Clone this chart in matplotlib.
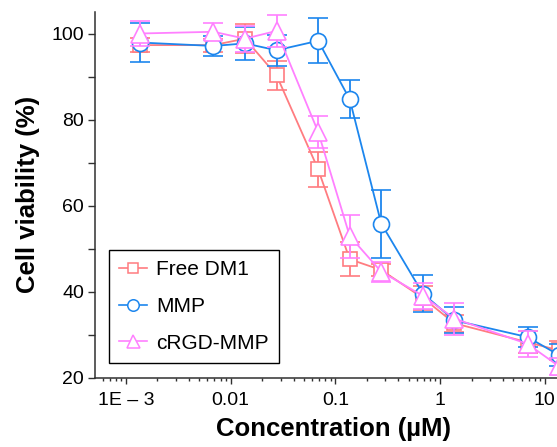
import matplotlib.pyplot as plt
from matplotlib.lines import Line2D

plt.rcParams['font.family'] = ['Liberation Sans', 'DejaVu Sans']

# concentrations (uM)
conc = [0.00137, 0.00685, 0.0137, 0.0274, 0.0685, 0.137, 0.274, 0.685, 1.37, 6.85, 13.7]

free_dm1 = [97.3, 97.3, 98.8, 90.3, 68.4, 47.5, 45.0, 38.5, 32.6, 28.2, 26.3]
free_dm1_err = [1.6, 1.5, 3.3, 3.4, 4.1, 4.0, 1.5, 2.8, 2.0, 2.5, 2.2]

mmp = [97.9, 97.1, 97.7, 96.1, 98.3, 84.7, 55.8, 39.5, 33.3, 29.4, 25.2]
mmp_err = [4.6, 2.4, 3.8, 3.6, 5.2, 4.4, 7.9, 4.3, 3.0, 2.3, 2.5]

crgd_mmp = [100.0, 100.4, 98.8, 100.6, 77.1, 52.9, 44.6, 39.0, 33.7, 27.8, 22.6]
crgd_mmp_err = [3.0, 2.0, 3.0, 3.7, 3.7, 5.0, 2.3, 3.0, 3.7, 3.0, 2.0]

xtick_vals = [0.001, 0.01, 0.1, 1, 10]
xtick_labels = ['1E \u2013 3', '0.01', '0.1', '1', '10']

fig = plt.figure(figsize=(5.57, 4.47), dpi=100)
ax = fig.add_axes([95 / 557, 69.5 / 447, 478 / 557, 365.5 / 447])

series = [
    (free_dm1, free_dm1_err, '#FF7C80', 's', 10, 'Free DM1'),
    (mmp, mmp_err, '#1C86EE', 'o', 11.5, 'MMP'),
    (crgd_mmp, crgd_mmp_err, '#FF80FF', '^', 13, 'cRGD-MMP'),
]
handles = []
for i, (vals, errs, col, mk, ms, lab) in enumerate(series):
    ax.errorbar(conc, vals, yerr=errs, color=col, marker=mk, markersize=ms,
                markerfacecolor='white', markeredgecolor=col, markeredgewidth=1.2,
                linewidth=1.3, elinewidth=1.3, capsize=7, capthick=1.3,
                zorder=3 + i, clip_on=False)
    handles.append(Line2D([], [], color=col, marker=mk, markersize=ms * 0.72,
                          markerfacecolor='white', markeredgecolor=col,
                          markeredgewidth=1.1, linewidth=1.2, label=lab))

ax.set_xscale('log')
ax.set_xlim(5.06e-4, 18.6)
ax.set_ylim(20, 105)
ax.set_xticks(xtick_vals)
ax.set_xticklabels(xtick_labels)
ax.set_yticks([20, 40, 60, 80, 100])
ax.set_yticks([30, 50, 70, 90], minor=True)

for s in ['top', 'right']:
    ax.spines[s].set_visible(False)
for s in ['left', 'bottom']:
    ax.spines[s].set_linewidth(1.1)
    ax.spines[s].set_color('#303030')

ax.tick_params(axis='both', which='major', labelsize=14, direction='out', width=1, color='#303030')
ax.tick_params(axis='x', which='major', length=4.5, pad=6)
ax.tick_params(axis='x', which='minor', length=2.5, width=1, color='#303030')
ax.tick_params(axis='y', which='major', length=5, pad=3)
ax.tick_params(axis='y', which='minor', length=5, width=1, color='#303030')

ax.set_xlabel('Concentration (\u00b5M)', fontsize=18.5, fontweight='bold', labelpad=6)
ax.set_ylabel('Cell viability (%)', fontsize=18.5, fontweight='bold', labelpad=8)

leg = ax.legend(handles=handles, loc='lower left', bbox_to_anchor=(109 / 557, 84 / 447),
                bbox_transform=fig.transFigure, borderaxespad=0, fontsize=15,
                fancybox=False, framealpha=1, edgecolor='black', handlelength=1.3,
                handletextpad=0.45, labelspacing=0.85, borderpad=0.5)
leg.get_frame().set_linewidth(1.0)

fig.savefig('out.png', dpi=100)
